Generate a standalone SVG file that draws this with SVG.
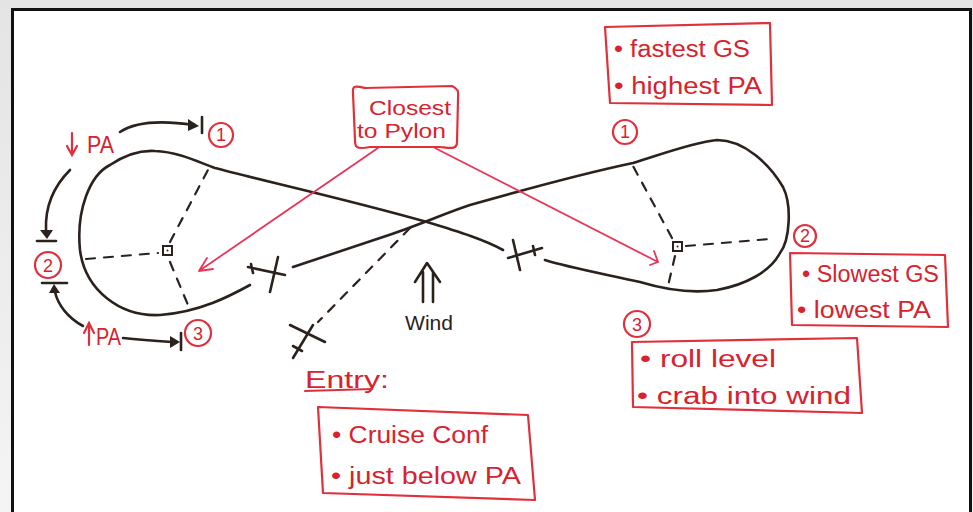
<svg xmlns="http://www.w3.org/2000/svg" width="973" height="512" viewBox="0 0 973 512">
<defs>
<style>
.r{fill:none;stroke:#e0303c;stroke-width:2.2;stroke-linejoin:round;stroke-linecap:round}
.rt{fill:#d8222e;font-family:"Liberation Sans",Arial,sans-serif;font-size:23px}
.rs{fill:#d8222e;font-family:"Liberation Sans",Arial,sans-serif;font-size:20px}
.k{fill:none;stroke:#2b211d;stroke-width:2.6;stroke-linecap:round;stroke-linejoin:round}
.kd{fill:none;stroke:#2b211d;stroke-width:2.2;stroke-dasharray:9 9;stroke-linecap:round}
.kt{fill:#2b211d;font-family:"Liberation Sans",Arial,sans-serif;font-size:20px}
.pk{fill:none;stroke:#e8365a;stroke-width:1.8;stroke-linecap:round;stroke-linejoin:round}
.num{fill:#d8222e;font-family:"Liberation Sans",Arial,sans-serif;font-size:18px;text-anchor:middle}
</style>
<linearGradient id="sh" x1="0" y1="0" x2="0" y2="1"><stop offset="0" stop-color="#e4e4e4"/><stop offset="1" stop-color="#f4f4f4"/></linearGradient>
</defs>
<rect x="0" y="0" width="973" height="512" fill="url(#sh)"/>
<rect x="12.5" y="9.5" width="958" height="520" fill="#ffffff" stroke="#111" stroke-width="3"/>

<g id="connectors">
  <!-- figure eight path -->
  <path class="k" d="M250,285 C230,296 200,312 160,315 C120,317 85,290 80,250 C76,210 90,175 110,165 C125,155 140,150 155,151 C180,152 200,163 215,168 C260,180 350,200 427,222 C460,232 485,240 503,250"/>
  <path class="k" d="M293,267 C320,258 350,248 380,238 C420,225 440,215 470,205 C530,188 590,172 633,163 C660,155 690,143 717,140 C745,140 770,165 783,187 C792,205 790,240 780,253 C770,272 745,285 717,290 C690,294 660,288 640,282 C610,275 570,268 545,260"/>
  <!-- cross marks -->
  <path class="k" d="M248,267 L285,275 M278,257 L270,292 M251,264 L253,273"/>
  <path class="k" d="M513,240 L520,270 M508,258 L542,248 M533,246 L535,255"/>
  <path class="k" d="M290,325 L325,342 M313,325 L293,358 M293,346 L302,351"/>
  <!-- entry dashed line -->
  <path class="kd" d="M410,228 L318,322"/>
  <!-- left loop radials -->
  <path class="kd" d="M86,259 L158,253"/>
  <path class="kd" d="M170,242 L209,168"/>
  <path class="kd" d="M170,262 L188,305"/>
  <rect x="163" y="246" width="9" height="9" fill="#fff" stroke="#2b211d" stroke-width="2"/>
  <circle cx="167.5" cy="250.5" r="1" fill="#2b211d"/>
  <!-- right loop radials -->
  <path class="kd" d="M672,238 L633,166"/>
  <path class="kd" d="M686,246 L770,239"/>
  <path class="kd" d="M675,256 L668,286"/>
  <rect x="673" y="242" width="9" height="9" fill="#fff" stroke="#2b211d" stroke-width="2"/>
  <circle cx="677.5" cy="246.5" r="1" fill="#2b211d"/>
  <!-- pylon arrows -->
  <path class="pk" d="M378,148 L199,271 M199,271 L213,269 M199,271 L207,258"/>
  <path class="pk" d="M435,148 L658,262 M658,262 L650,265 M658,262 L654,251"/>
  <!-- left black arrows -->
  <path class="k" d="M120,132 C135,122 160,120 194,125"/>
  <path d="M188,119 L199,126 L188,131 Z" fill="#2b211d"/>
  <path class="k" d="M202,117 L202,133"/>
  <path class="k" d="M70,170 C55,185 45,205 46,230"/>
  <path d="M40,230 L47,239 L53,230 Z" fill="#2b211d"/>
  <path class="k" d="M37,241 L56,241"/>
  <path class="k" d="M83,326 C68,318 58,305 55,292"/>
  <path d="M49,293 L54,284 L60,293 Z" fill="#2b211d"/>
  <path class="k" d="M42,283 L67,283"/>
  <path class="k" d="M123,338 C140,340 155,341 172,342"/>
  <path d="M170,336 L180,342 L170,348 Z" fill="#2b211d"/>
  <path class="k" d="M181,333 L181,350"/>
  <!-- wind arrow -->
  <path class="k" d="M423,302 L423,272 M433,302 L433,272 M415,282 L427,263 L440,282"/>
  <!-- red PA arrows -->
  <path d="M72,133 L72,152 M67,146 L72,155 L77,146" fill="none" stroke="#e0303c" stroke-width="2.2" stroke-linecap="round"/>
  <path d="M89,345 L89,326 M84,333 L89,323 L94,333" fill="none" stroke="#e0303c" stroke-width="2.2" stroke-linecap="round"/>
</g>

<g id="top-box">
  <path class="r" d="M605,27 L770,23 L772,105 L610,103 Z"/>
  <text class="rt" x="614" y="57" textLength="136" lengthAdjust="spacingAndGlyphs">• fastest GS</text>
  <text class="rt" x="614" y="94" textLength="148" lengthAdjust="spacingAndGlyphs">• highest PA</text>
</g>
<g id="pylon-box">
  <path class="r" d="M353,93 C352,85 356,86 365,88 L452,86 C460,90 458,92 458,100 L457,142 C457,150 450,148 440,147 L370,147 C355,150 355,146 355,140 Z"/>
  <text class="rs" x="369" y="115" textLength="82" lengthAdjust="spacingAndGlyphs">Closest</text>
  <text class="rs" x="357" y="138" textLength="89" lengthAdjust="spacingAndGlyphs">to Pylon</text>
</g>
<g id="slow-box">
  <path class="r" d="M790,253 L945,255 L948,327 L792,325 Z"/>
  <text class="rt" x="802" y="282" textLength="137" lengthAdjust="spacingAndGlyphs">• Slowest GS</text>
  <text class="rt" x="797" y="318" textLength="134" lengthAdjust="spacingAndGlyphs">• lowest PA</text>
</g>
<g id="roll-box">
  <path class="r" d="M632,342 L857,338 L862,413 L633,407 Z"/>
  <text class="rt" x="640" y="367" textLength="136" lengthAdjust="spacingAndGlyphs">• roll level</text>
  <text class="rt" x="637" y="404" textLength="214" lengthAdjust="spacingAndGlyphs">• crab into wind</text>
</g>
<g id="entry-box">
  <text class="rt" x="305" y="388" textLength="84" lengthAdjust="spacingAndGlyphs">Entry:</text>
  <path class="r" d="M305,391 L372,389"/>
  <path class="r" d="M318,407 L528,415 L535,500 L323,493 Z"/>
  <text class="rt" x="332" y="443" textLength="156" lengthAdjust="spacingAndGlyphs">• Cruise Conf</text>
  <text class="rt" x="331" y="484" textLength="190" lengthAdjust="spacingAndGlyphs">• just below PA</text>
</g>
<g id="labels">
  <text class="rt" x="87" y="153" textLength="27" lengthAdjust="spacingAndGlyphs">PA</text>
  <text class="rt" x="96" y="345" textLength="25" lengthAdjust="spacingAndGlyphs">PA</text>
  <text class="kt" x="405" y="330" textLength="48" lengthAdjust="spacingAndGlyphs">Wind</text>
</g>
<g id="step-numbers">
  <circle class="r" cx="221" cy="135" r="12"/><text class="num" x="221" y="141">1</text>
  <circle class="r" cx="625" cy="132" r="12"/><text class="num" x="625" y="138">1</text>
  <circle class="r" cx="48" cy="265" r="13"/><text class="num" x="48" y="272" font-size="20">2</text>
  <circle class="r" cx="198" cy="333" r="13"/><text class="num" x="198" y="340" font-size="20">3</text>
  <circle class="r" cx="805" cy="236" r="11"/><text class="num" x="805" y="242">2</text>
  <circle class="r" cx="637" cy="324" r="13"/><text class="num" x="637" y="331" font-size="20">3</text>
</g>
</svg>
